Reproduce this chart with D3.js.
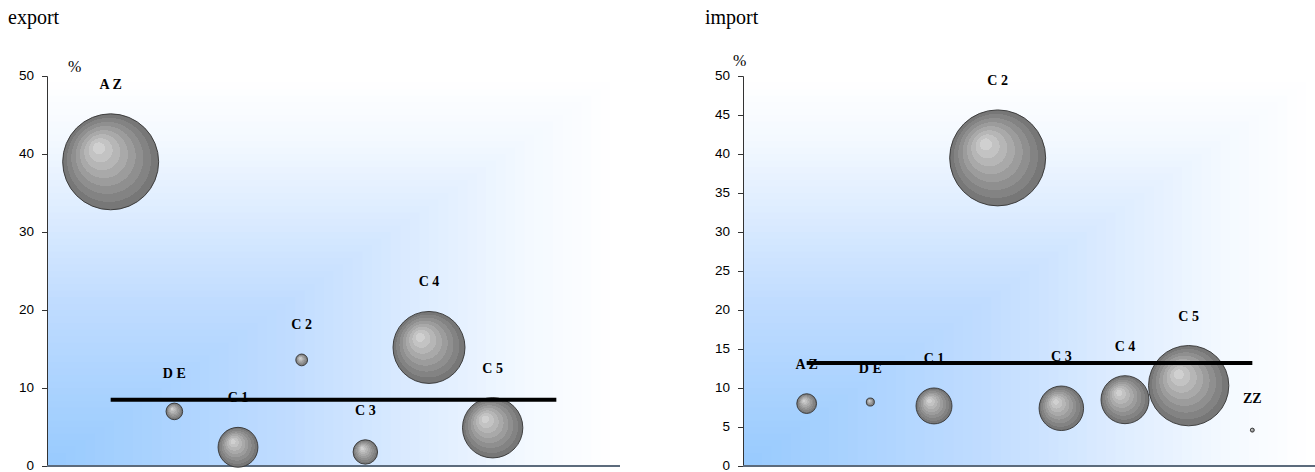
<!DOCTYPE html>
<html>
<head>
<meta charset="utf-8">
<script src="https://cdn.jsdelivr.net/npm/d3@7"></script>
<style>
  body { margin: 0; background: #fff; }
  .tick text { font-family: 'Liberation Sans', Arial, sans-serif; font-size: 13.5px; fill: #000; }
  .title { font-family: 'Liberation Serif', 'Times New Roman', serif; font-size: 20px; }
  .unit { font-family: 'Liberation Serif', 'Times New Roman', serif; font-size: 16px; }
  .lbl { font-family: 'Liberation Serif', 'Times New Roman', serif; font-size: 14px; font-weight: bold; }
</style>
</head>
<body>
<div class="chart"></div>
<script>
// export panel
const exportLabels = ['A Z', 'D E', 'C 1', 'C 2', 'C 3', 'C 4', 'C 5'];
const exportValues = [39.0, 7.0, 2.4, 13.6, 1.8, 15.2, 4.9];
const exportSizes = [40, 1.2, 6.9, 0.6, 2.6, 22.5, 15.8];
const exportAvg = 8.5;
const exportTicks = [0, 10, 20, 30, 40, 50];

// import panel
const importLabels = ['A Z', 'D E', 'C 1', 'C 2', 'C 3', 'C 4', 'C 5', 'ZZ'];
const importValues = [8.0, 8.2, 7.7, 39.5, 7.4, 8.5, 10.3, 4.6];
const importSizes = [1.7, 0.28, 5.6, 40, 8.6, 10, 28, 0.07];
const importAvg = 13.2;
const importTicks = [0, 5, 10, 15, 20, 25, 30, 35, 40, 45, 50];

const svgWidth = 1315;
const svgHeight = 472;
const width = 573;
const height = 390;

const svg = d3.select('.chart')
  .append('svg')
  .attr('width', svgWidth)
  .attr('height', svgHeight);

const defs = svg.append('defs');

// banded grey bubble fill
const bub = defs.append('radialGradient')
  .attr('id', 'bub')
  .attr('cx', 0.5).attr('cy', 0.5).attr('r', 0.5)
  .attr('fx', 0.36).attr('fy', 0.34);
const bands = ['#d0d0d0', '#c3c3c3', '#b6b6b6', '#a9a9a9', '#9c9c9c', '#8f8f8f', '#838383', '#777777'];
bands.forEach((c, i) => {
  bub.append('stop').attr('offset', i / bands.length).attr('stop-color', c);
  bub.append('stop').attr('offset', (i + 1) / bands.length).attr('stop-color', c);
});

// "from corner" fill: blue at bottom-left fading to white
const bgColor = d3.scaleLinear()
  .domain([0, 0.43, 0.7, 0.85, 1])
  .range(['#97cafe', '#c0dcff', '#e2efff', '#f4f9ff', '#ffffff']);
const steps = d3.range(60, 0, -1).map(i => i / 60);

function drawPanel(left, title, titleX, unitPos, labels, values, sizes, avg, ticks) {
  const data = labels.map((l, i) => ({ label: l, x: i + 1, y: values[i], size: sizes[i] }));

  svg.append('text')
    .attr('class', 'title')
    .attr('x', titleX)
    .attr('y', 24)
    .text(title);

  const g = svg.append('g')
    .attr('transform', `translate(${left}, 76)`);

  const xScale = d3.scaleLinear().domain([0, 9]).range([0, width]);
  const yScale = d3.scaleLinear().domain([0, 50]).range([height, 0]);
  const rScale = d3.scaleSqrt().domain([0, d3.max(sizes)]).range([0, 48]);

  g.selectAll('.bg')
    .data(steps)
    .enter()
    .append('rect')
    .attr('class', 'bg')
    .attr('x', 0)
    .attr('y', t => height - t * height)
    .attr('width', t => t * width)
    .attr('height', t => t * height)
    .attr('fill', t => bgColor(t));

  const yAxis = g.append('g')
    .call(d3.axisLeft(yScale).tickValues(ticks).tickSize(5).tickPadding(8));
  yAxis.select('.domain').attr('stroke', '#333');
  yAxis.selectAll('.tick line').attr('stroke', '#333');
  yAxis.selectAll('.tick text').attr('dy', '0.28em');

  g.append('line')
    .attr('x1', 0).attr('x2', width)
    .attr('y1', height).attr('y2', height)
    .attr('stroke', '#5c6b7c')
    .attr('stroke-width', 2);

  svg.append('text')
    .attr('class', 'unit')
    .attr('x', unitPos[0])
    .attr('y', unitPos[1])
    .text('%');

  g.selectAll('circle')
    .data(data)
    .enter()
    .append('circle')
    .attr('cx', d => xScale(d.x))
    .attr('cy', d => yScale(d.y))
    .attr('r', d => rScale(d.size))
    .attr('fill', 'url(#bub)')
    .attr('stroke', '#333')
    .attr('stroke-width', 0.9);

  g.selectAll('.lbl')
    .data(data)
    .enter()
    .append('text')
    .attr('class', 'lbl')
    .attr('x', d => xScale(d.x))
    .attr('y', d => yScale(d.y) - rScale(d.size) - 25)
    .attr('text-anchor', 'middle')
    .text(d => d.label);

  // average line across the categories
  g.append('line')
    .attr('x1', xScale(1)).attr('x2', xScale(8))
    .attr('y1', yScale(avg)).attr('y2', yScale(avg))
    .attr('stroke', '#000')
    .attr('stroke-width', 4);
}

drawPanel(47, 'export', 8, [68, 72], exportLabels, exportValues, exportSizes, exportAvg, exportTicks);
drawPanel(743, 'import', 705, [733, 66], importLabels, importValues, importSizes, importAvg, importTicks);
</script>
</body>
</html>
